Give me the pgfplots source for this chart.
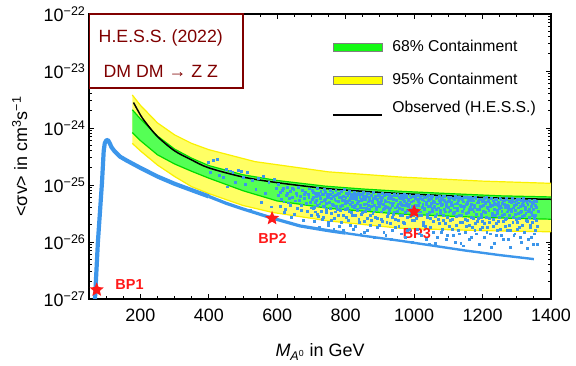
\documentclass[border=0pt]{standalone}
\usepackage{pgfplots}
\pgfplotsset{compat=1.18}
\usepackage{pgfplotstable}
\usepgfplotslibrary{fillbetween}
\usepackage{fontspec}
\setmainfont{Liberation Sans}

\definecolor{dmblue}{RGB}{60,150,235}
\definecolor{bandgreen}{RGB}{85,255,85}
\definecolor{edgegreen}{RGB}{0,220,0}
\definecolor{bandyellow}{RGB}{255,255,100}
\definecolor{edgeyellow}{RGB}{250,240,0}
\definecolor{boxred}{RGB}{128,0,0}
\definecolor{starred}{RGB}{255,25,25}

% filled five-pointed star
\pgfdeclareplotmark{fstar}{%
  \pgfpathmoveto{\pgfpointpolar{90}{\pgfplotmarksize}}%
  \pgfpathlineto{\pgfpointpolar{126}{0.45\pgfplotmarksize}}%
  \pgfpathlineto{\pgfpointpolar{162}{\pgfplotmarksize}}%
  \pgfpathlineto{\pgfpointpolar{198}{0.45\pgfplotmarksize}}%
  \pgfpathlineto{\pgfpointpolar{234}{\pgfplotmarksize}}%
  \pgfpathlineto{\pgfpointpolar{270}{0.45\pgfplotmarksize}}%
  \pgfpathlineto{\pgfpointpolar{306}{\pgfplotmarksize}}%
  \pgfpathlineto{\pgfpointpolar{342}{0.45\pgfplotmarksize}}%
  \pgfpathlineto{\pgfpointpolar{18}{\pgfplotmarksize}}%
  \pgfpathlineto{\pgfpointpolar{54}{0.45\pgfplotmarksize}}%
  \pgfpathclose\pgfusepathqfill}

% H.E.S.S. bands
\pgfplotstableread{
x y
176.5 3.80e-24
200 2.51e-24
250 1.23e-24
300 7.59e-25
350 5.37e-25
400 4.17e-25
535 2.57e-25
750 1.70e-25
960 1.38e-25
1200 1.17e-25
1400 1.07e-25
}\yelup
\pgfplotstableread{
x y
176.5 5.37e-25
200 3.98e-25
250 2.24e-25
300 1.41e-25
350 9.33e-26
400 7.08e-26
500 4.37e-26
585 3.31e-26
750 2.34e-26
960 1.74e-26
1200 1.58e-26
1400 1.51e-26
}\yellow
\pgfplotstableread{
x y
176.5 2.09e-24
200 1.45e-24
250 7.24e-25
300 4.27e-25
350 2.95e-25
400 2.19e-25
500 1.51e-25
600 1.20e-25
740 9.55e-26
850 8.51e-26
960 7.76e-26
1100 7.08e-26
1250 6.46e-26
1400 6.17e-26
}\grnup
\pgfplotstableread{
x y
176.5 8.32e-25
200 6.03e-25
250 3.39e-25
300 2.34e-25
350 1.74e-25
400 1.32e-25
500 7.94e-26
600 5.25e-26
750 3.89e-26
960 3.09e-26
1200 2.69e-26
1400 2.51e-26
}\grnlo
\pgfplotstableread{
x y
180 2.80e-24
200 1.70e-24
215 1.26e-24
250 7.08e-25
300 3.98e-25
350 2.75e-25
400 2.00e-25
500 1.38e-25
600 1.10e-25
740 8.71e-26
850 7.76e-26
960 7.08e-26
1100 6.46e-26
1250 5.89e-26
1400 5.62e-26
}\observed

% model scan points
\pgfplotstableread{
x y
398 2.51e-25
405 1.66e-25
412 2.69e-25
424 2.82e-25
430 1.48e-25
441 1.38e-25
452 1.91e-25
455 9.33e-26
463 1.78e-25
470 1.70e-25
478 1.12e-25
486 1.82e-25
494 1.74e-25
500 1.35e-25
506 1.05e-25
512 1.66e-25
520 3.55e-26
528 1.20e-25
537 8.32e-26
545 1.32e-25
552 5.01e-26
560 1.45e-25
566 7.08e-26
575 1.12e-25
583 4.17e-26
590 1.26e-25
596 8.91e-26
603 1.02e-25
608 7.4e-26
612 5.6e-26
617 8.9e-26
621 3.3e-26
626 6.6e-26
630 9.3e-26
633 4.9e-26
637 7.8e-26
641 2.7e-26
645 6.1e-26
648 8.5e-26
652 5.3e-26
655 7.1e-26
659 3.9e-26
662 9.0e-26
666 6.3e-26
669 4.4e-26
673 8.0e-26
676 2.4e-26
680 5.8e-26
683 7.5e-26
687 3.5e-26
690 6.8e-26
694 8.6e-26
697 5.0e-26
700 3.0e-26
703 8.2e-26
705 6.0e-26
708 4.1e-26
710 3.4e-26
712 7.3e-26
715 5.4e-26
717 8.7e-26
720 2.8e-26
722 6.5e-26
724 4.7e-26
727 7.9e-26
729 5.1e-26
731 2.5e-26
734 6.9e-26
736 4.3e-26
738 8.4e-26
741 5.7e-26
743 3.8e-26
745 7.0e-26
748 2.2e-26
750 6.2e-26
752 4.9e-26
755 8.1e-26
757 3.2e-26
759 5.9e-26
762 7.6e-26
764 4.5e-26
766 2.6e-26
769 6.7e-26
771 8.0e-26
773 5.3e-26
776 3.7e-26
778 7.2e-26
780 1.9e-26
782 6.0e-26
785 4.2e-26
787 7.7e-26
789 5.5e-26
792 3.0e-26
794 6.4e-26
796 8.3e-26
799 4.8e-26
801 7.1e-26
803 5.2e-26
805 3.9e-26
806 6.6e-26
808 2.4e-26
810 7.8e-26
812 4.6e-26
814 5.9e-26
815 3.3e-26
817 7.0e-26
819 5.0e-26
821 1.7e-26
823 6.3e-26
825 4.1e-26
826 7.5e-26
828 2.9e-26
830 5.6e-26
832 6.8e-26
834 3.6e-26
835 4.8e-26
837 7.3e-26
839 2.2e-26
841 6.0e-26
843 4.4e-26
845 5.4e-26
846 3.1e-26
848 6.9e-26
850 4.0e-26
852 7.6e-26
854 1.5e-26
856 5.7e-26
857 3.5e-26
859 6.4e-26
861 4.7e-26
863 2.6e-26
865 7.2e-26
867 5.1e-26
868 3.8e-26
870 6.1e-26
872 2.0e-26
874 4.3e-26
876 6.7e-26
878 5.3e-26
879 3.2e-26
881 7.4e-26
883 4.5e-26
885 2.7e-26
887 5.8e-26
889 6.5e-26
890 3.7e-26
892 1.8e-26
894 5.0e-26
896 7.0e-26
898 4.2e-26
901 6.2e-26
903 3.4e-26
905 5.5e-26
906 7.1e-26
908 2.3e-26
910 4.6e-26
912 6.6e-26
913 3.9e-26
915 5.2e-26
917 1.3e-26
919 6.9e-26
921 4.1e-26
922 2.8e-26
924 5.9e-26
926 3.6e-26
928 7.0e-26
930 4.9e-26
931 2.1e-26
933 6.3e-26
935 1.6e-26
937 4.4e-26
939 5.6e-26
940 3.1e-26
942 6.8e-26
944 4.0e-26
946 2.5e-26
948 5.3e-26
949 6.5e-26
951 3.5e-26
953 4.7e-26
955 1.9e-26
957 6.0e-26
958 2.9e-26
960 5.0e-26
962 6.7e-26
964 3.8e-26
966 4.5e-26
967 2.2e-26
969 5.7e-26
971 6.9e-26
973 3.3e-26
975 1.2e-26
976 4.8e-26
978 6.1e-26
980 2.7e-26
982 5.4e-26
984 4.2e-26
985 1.7e-26
987 6.6e-26
989 3.7e-26
991 5.1e-26
993 2.4e-26
994 4.3e-26
996 6.4e-26
998 3.0e-26
1002 6.3e-26
1004 4.4e-26
1006 2.6e-26
1008 5.6e-26
1010 3.5e-26
1012 6.7e-26
1014 1.4e-26
1016 4.9e-26
1018 5.9e-26
1020 3.0e-26
1022 6.5e-26
1024 4.1e-26
1026 2.0e-26
1028 5.3e-26
1030 3.7e-26
1032 6.1e-26
1034 1.1e-26
1036 4.6e-26
1038 2.7e-26
1040 5.5e-26
1042 6.6e-26
1044 3.3e-26
1046 4.3e-26
1048 1.8e-26
1050 5.8e-26
1052 3.9e-26
1054 6.4e-26
1056 2.3e-26
1058 5.0e-26
1060 4.0e-26
1062 9.5e-27
1064 6.0e-26
1066 3.1e-26
1068 4.7e-26
1070 2.5e-26
1072 5.4e-26
1074 6.3e-26
1076 3.6e-26
1078 1.5e-26
1080 4.4e-26
1082 5.7e-26
1084 2.9e-26
1086 6.5e-26
1088 3.8e-26
1090 2.1e-26
1092 5.1e-26
1094 4.2e-26
1096 1.3e-26
1098 6.0e-26
1101 3.4e-26
1103 5.5e-26
1105 2.4e-26
1107 6.2e-26
1109 4.5e-26
1111 1.7e-26
1113 3.2e-26
1115 5.9e-26
1117 4.0e-26
1119 1.0e-26
1121 6.3e-26
1123 2.8e-26
1125 4.8e-26
1127 3.6e-26
1129 5.3e-26
1131 1.4e-26
1133 6.0e-26
1135 2.2e-26
1137 4.3e-26
1139 3.0e-26
1141 5.6e-26
1143 8.6e-27
1145 3.9e-26
1147 6.1e-26
1149 2.5e-26
1151 4.6e-26
1153 1.9e-26
1155 5.0e-26
1157 3.3e-26
1159 6.2e-26
1161 2.0e-26
1163 4.1e-26
1165 5.4e-26
1167 1.2e-26
1169 3.7e-26
1171 5.8e-26
1173 2.6e-26
1175 4.4e-26
1177 1.6e-26
1179 6.0e-26
1181 3.1e-26
1183 4.9e-26
1185 2.3e-26
1187 5.2e-26
1189 9.0e-27
1191 3.8e-26
1193 5.7e-26
1195 2.7e-26
1197 4.2e-26
1199 1.8e-26
1201 5.5e-26
1203 3.5e-26
1205 2.1e-26
1208 4.7e-26
1210 6.0e-26
1212 1.5e-26
1215 3.9e-26
1217 5.2e-26
1219 2.6e-26
1222 4.3e-26
1224 8.2e-27
1226 5.8e-26
1229 3.2e-26
1231 1.9e-26
1233 4.9e-26
1236 2.9e-26
1238 5.6e-26
1240 1.3e-26
1243 3.6e-26
1245 4.5e-26
1247 2.3e-26
1250 5.9e-26
1252 1.7e-26
1254 4.0e-26
1257 3.0e-26
1259 5.3e-26
1261 1.1e-26
1264 4.6e-26
1266 2.5e-26
1268 5.7e-26
1271 3.4e-26
1273 1.6e-26
1275 4.2e-26
1278 2.0e-26
1280 5.1e-26
1282 8.0e-27
1285 3.7e-26
1287 5.8e-26
1289 2.7e-26
1292 4.4e-26
1294 1.4e-26
1296 3.1e-26
1299 5.4e-26
1301 2.2e-26
1303 4.0e-26
1306 1.8e-26
1308 5.6e-26
1310 3.3e-26
1313 1.0e-26
1315 4.7e-26
1317 2.8e-26
1320 5.2e-26
1322 1.5e-26
1324 3.8e-26
1327 2.4e-26
1329 4.9e-26
1331 7.8e-27
1334 3.5e-26
1336 5.5e-26
1338 2.0e-26
1341 4.3e-26
1343 1.2e-26
1345 3.0e-26
1348 5.0e-26
1350 2.6e-26
1353 1.6e-26
1356 4.1e-26
1359 9.0e-27
}\scan

\pgfplotstableread{
x y
604 6.7e-26
609 4.3e-26
614 8.1e-26
619 5.1e-26
624 3.8e-26
628 7.2e-26
635 5.8e-26
639 4.5e-26
643 8.8e-26
650 3.1e-26
657 6.5e-26
664 5.5e-26
671 3.6e-26
678 7.0e-26
685 4.8e-26
692 6.2e-26
698 4.0e-26
701 5.7e-26
704 3.9e-26
706 7.6e-26
709 2.3e-26
711 5.0e-26
713 6.4e-26
716 3.1e-26
718 4.4e-26
721 7.1e-26
723 1.8e-26
726 5.8e-26
728 3.5e-26
730 6.8e-26
733 4.2e-26
735 2.7e-26
737 5.5e-26
740 7.4e-26
742 3.3e-26
744 4.8e-26
747 6.1e-26
749 2.0e-26
751 5.1e-26
754 3.9e-26
756 7.0e-26
758 2.4e-26
761 4.6e-26
763 6.3e-26
765 1.7e-26
768 5.6e-26
770 3.4e-26
772 4.3e-26
775 6.9e-26
777 2.9e-26
779 5.2e-26
781 7.3e-26
784 3.6e-26
786 2.2e-26
788 6.0e-26
791 4.5e-26
793 1.6e-26
795 5.4e-26
798 3.8e-26
800 6.2e-26
802 2.7e-26
804 4.9e-26
807 7.2e-26
809 3.5e-26
811 5.5e-26
813 2.0e-26
816 6.5e-26
818 4.2e-26
820 3.0e-26
822 5.8e-26
824 7.0e-26
827 1.9e-26
829 4.5e-26
831 6.2e-26
833 3.8e-26
836 5.2e-26
838 2.5e-26
840 6.9e-26
842 4.1e-26
844 1.4e-26
847 5.6e-26
849 3.3e-26
851 6.4e-26
853 4.6e-26
855 2.3e-26
858 5.9e-26
860 3.9e-26
862 7.1e-26
864 1.6e-26
866 4.4e-26
869 5.5e-26
871 3.0e-26
873 6.6e-26
875 2.4e-26
877 4.9e-26
880 5.9e-26
882 3.4e-26
884 1.2e-26
886 6.3e-26
888 4.1e-26
891 2.6e-26
893 5.7e-26
895 4.7e-26
897 2.0e-26
899 6.7e-26
902 4.8e-26
904 2.5e-26
907 6.0e-26
909 3.7e-26
911 1.5e-26
914 5.4e-26
916 4.3e-26
918 6.8e-26
920 2.2e-26
923 5.1e-26
925 3.2e-26
927 6.2e-26
929 4.0e-26
932 1.1e-26
934 5.8e-26
936 2.7e-26
938 4.9e-26
941 6.5e-26
943 3.4e-26
945 1.8e-26
947 5.5e-26
950 4.2e-26
952 6.9e-26
954 2.4e-26
956 3.9e-26
959 5.9e-26
961 1.4e-26
963 4.6e-26
965 3.0e-26
968 6.3e-26
970 5.2e-26
972 2.1e-26
974 4.4e-26
977 6.6e-26
979 3.6e-26
981 1.6e-26
983 5.7e-26
986 4.7e-26
988 2.8e-26
990 6.1e-26
992 3.3e-26
995 1.0e-26
997 5.3e-26
999 4.1e-26
1001 2.4e-26
1003 5.9e-26
1005 3.8e-26
1007 6.6e-26
1009 1.7e-26
1011 4.5e-26
1013 5.2e-26
1015 2.9e-26
1017 6.2e-26
1019 3.4e-26
1021 1.3e-26
1023 5.6e-26
1025 4.6e-26
1027 2.2e-26
1029 6.0e-26
1031 3.9e-26
1033 1.9e-26
1035 5.0e-26
1037 6.4e-26
1039 3.1e-26
1041 4.2e-26
1043 9.2e-27
1045 5.7e-26
1047 2.6e-26
1049 4.8e-26
1051 6.3e-26
1053 3.5e-26
1055 1.5e-26
1057 5.3e-26
1059 4.3e-26
1061 2.8e-26
1063 5.9e-26
1065 3.7e-26
1067 1.2e-26
1069 6.2e-26
1071 4.0e-26
1073 2.1e-26
1075 5.0e-26
1077 3.2e-26
1079 5.8e-26
1081 1.7e-26
1083 4.6e-26
1085 2.4e-26
1087 5.5e-26
1089 6.4e-26
1091 3.4e-26
1093 1.1e-26
1095 4.8e-26
1097 2.7e-26
1099 5.2e-26
1100 4.1e-26
1102 1.9e-26
1104 6.1e-26
1106 3.6e-26
1108 5.0e-26
1110 2.5e-26
1112 4.4e-26
1114 1.3e-26
1116 5.7e-26
1118 3.3e-26
1120 4.7e-26
1122 2.0e-26
1124 6.2e-26
1126 3.9e-26
1128 1.6e-26
1130 5.4e-26
1132 2.9e-26
1134 4.5e-26
1136 9.6e-27
1138 5.8e-26
1140 3.5e-26
1142 2.2e-26
1144 5.1e-26
1146 4.2e-26
1148 1.5e-26
1150 6.0e-26
1152 3.2e-26
1154 4.8e-26
1156 2.4e-26
1158 5.5e-26
1160 1.1e-26
1162 3.8e-26
1164 6.1e-26
1166 2.7e-26
1168 4.6e-26
1170 1.8e-26
1172 5.3e-26
1174 3.4e-26
1176 4.0e-26
1178 2.1e-26
1180 5.9e-26
1182 1.4e-26
1184 3.7e-26
1186 4.9e-26
1188 2.6e-26
1190 5.6e-26
1192 1.7e-26
1194 4.3e-26
1196 3.1e-26
1198 5.1e-26
1200 2.3e-26
1202 4.5e-26
1204 5.8e-26
1206 1.2e-26
1207 3.3e-26
1209 5.0e-26
1211 2.7e-26
1213 4.1e-26
1214 1.8e-26
1216 5.5e-26
1218 3.6e-26
1220 2.2e-26
1221 4.8e-26
1223 1.4e-26
1225 5.9e-26
1227 3.0e-26
1228 4.4e-26
1230 2.5e-26
1232 5.3e-26
1234 9.5e-27
1235 3.8e-26
1237 4.6e-26
1239 2.1e-26
1241 5.7e-26
1242 3.2e-26
1244 1.6e-26
1246 5.0e-26
1248 3.9e-26
1249 2.7e-26
1251 4.3e-26
1253 5.6e-26
1255 1.3e-26
1256 3.5e-26
1258 4.8e-26
1260 2.3e-26
1262 5.4e-26
1263 3.1e-26
1265 1.9e-26
1267 4.1e-26
1269 5.8e-26
1270 2.6e-26
1272 4.5e-26
1274 1.1e-26
1276 3.7e-26
1277 5.2e-26
1279 2.9e-26
1281 1.6e-26
1283 4.9e-26
1284 3.4e-26
1286 5.5e-26
1288 2.2e-26
1290 4.0e-26
1291 1.3e-26
1293 5.1e-26
1295 3.6e-26
1297 2.5e-26
1298 4.6e-26
1300 5.7e-26
1302 1.7e-26
1304 3.2e-26
1305 4.9e-26
1307 2.6e-26
1309 4.2e-26
1311 1.2e-26
1312 5.4e-26
1314 3.5e-26
1316 2.0e-26
1318 4.5e-26
1319 5.8e-26
1321 2.9e-26
1323 1.5e-26
1325 4.1e-26
1326 3.2e-26
1328 5.3e-26
1330 2.3e-26
1332 4.6e-26
1333 1.1e-26
1335 3.8e-26
1337 2.7e-26
1339 5.1e-26
1340 1.8e-26
1342 3.3e-26
1344 4.8e-26
1346 2.2e-26
1347 9.0e-27
1349 3.7e-26
1351 5.4e-26
1352 1.4e-26
1354 3.0e-26
1355 4.4e-26
1357 2.4e-26
1358 5.2e-26
1360 1.9e-26
1362 3.5e-26
}\scanb

\begin{document}
\begin{tikzpicture}
\begin{axis}[
  scale only axis,
  width=462bp, height=285bp,
  xmin=50, xmax=1400,
  ymode=log, ymin=1e-27, ymax=1e-22,
  xtick={200,400,...,1400},
  minor xtick={100,150,...,1350},
  ytick={1e-27,1e-26,1e-25,1e-24,1e-23,1e-22},
  yticklabels={10\textsuperscript{−27},10\textsuperscript{−26},10\textsuperscript{−25},10\textsuperscript{−24},10\textsuperscript{−23},10\textsuperscript{−22}},
  tick align=inside,
  major tick length=5bp, minor tick length=3bp,
  every tick/.style={black, line width=0.8bp},
  axis line style={line width=1.5bp},
  ticklabel style={font=\fontsize{18}{20}\selectfont},
  /pgf/number format/assume math mode=true,
  /pgf/number format/set thousands separator={},
  xticklabel style={yshift=-6bp},
  xlabel={\textit{M}\textsubscript{\textit{A}\textsuperscript{0}} in GeV},
  xlabel style={at={(axis description cs:0.5,-0.2)}, anchor=base, font=\fontsize{18}{20}\selectfont},
  ylabel={<σv> in cm\textsuperscript{3}s\textsuperscript{−1}},
  ylabel style={at={(axis description cs:-0.134,0.5)}, anchor=base, font=\fontsize{18}{20}\selectfont},
]
% 95% band
\addplot[draw=none, name path=yu, forget plot] table {\yelup};
\addplot[draw=none, name path=yl, forget plot] table {\yellow};
\addplot[bandyellow] fill between[of=yu and yl];
\addplot[edgeyellow, line width=1.2bp] table {\yelup};
\addplot[edgeyellow, line width=1.2bp] table {\yellow};
% 68% band
\addplot[draw=none, name path=gu, forget plot] table {\grnup};
\addplot[draw=none, name path=gl, forget plot] table {\grnlo};
\addplot[bandgreen] fill between[of=gu and gl];
\addplot[edgegreen, line width=1.2bp] table {\grnup};
\addplot[edgegreen, line width=1.2bp] table {\grnlo};
% scan points
\addplot[only marks, color=dmblue, mark=square*, mark size=0.95bp, mark options={draw=none, fill=dmblue}] table {\scan};
\addplot[only marks, color=dmblue, mark=square*, mark size=0.95bp, mark options={draw=none, fill=dmblue}] table {\scanb};
% observed limit
\addplot[black, line width=1.5bp, smooth] table {\observed};
% relic curve
\addplot[dmblue, line width=4.2bp, line join=round] coordinates {
(64,3.98e-28) (67.5,1.00e-27) (76,1.00e-26) (88,1.12e-25) (93,3.98e-25)
(96,5.37e-25) (100,6.03e-25) (105,6.17e-25) (110,5.50e-25) (116,4.57e-25)
(125,3.89e-25) (140,3.16e-25) (160,2.69e-25) (200,2.00e-25) (250,1.41e-25)
(300,1.05e-25) (350,8.13e-26) (400,6.31e-26)};
\addplot[dmblue, line width=3.2bp, line join=round] coordinates {
(400,6.31e-26) (450,4.79e-26) (500,3.80e-26) (585,2.63e-26) (667,1.91e-26)
(750,1.58e-26) (800,1.43e-26)};
\addplot[dmblue, line width=2.4bp, line join=round] coordinates {
(800,1.43e-26) (850,1.29e-26) (960,1.05e-26) (1050,8.71e-27) (1150,7.08e-27)
(1250,5.89e-27) (1350,5.01e-27)};
% benchmark points
\addplot[only marks, mark=fstar, mark size=7.4bp, color=starred] coordinates {
(72.5,1.45e-27) (585,2.6e-26) (1000,3.4e-26)};
\node[starred, anchor=base west, font=\bfseries\fontsize{14.5}{16}\selectfont] at (axis cs:117,1.48e-27) {BP1};
\node[starred, anchor=base west, font=\bfseries\fontsize{14.5}{16}\selectfont] at (axis cs:535,9.5e-27) {BP2};
\node[starred, anchor=base west, font=\bfseries\fontsize{14.5}{16}\selectfont] at (axis cs:956.7,1.16e-26) {BP3};
% H.E.S.S. box
\draw[boxred, line width=1.5bp, fill=white] (axis description cs:0,0.74) rectangle (axis description cs:0.333,1);
\node[boxred, anchor=base, font=\fontsize{17.8}{20}\selectfont] at (axis description cs:0.1554,0.899) {H.E.S.S. (2022)};
\node[boxred, anchor=base, font=\fontsize{17.8}{20}\selectfont] at (axis description cs:0.1554,0.778) {DM DM → Z Z};
% legend
\draw[fill={rgb,255:red,20;green,250;blue,20}, draw=gray, line width=0.6bp] (axis description cs:0.528,0.870) rectangle (axis description cs:0.634,0.898);
\draw[fill={rgb,255:red,255;green,255;blue,0}, draw=gray, line width=0.6bp] (axis description cs:0.528,0.754) rectangle (axis description cs:0.634,0.782);
\draw[black, line width=1.5bp] (axis description cs:0.528,0.646) -- (axis description cs:0.634,0.646);
\node[anchor=base west, font=\fontsize{15.8}{18}\selectfont] at (axis description cs:0.649,0.868) {68\% Containment};
\node[anchor=base west, font=\fontsize{15.8}{18}\selectfont] at (axis description cs:0.649,0.751) {95\% Containment};
\node[anchor=base west, font=\fontsize{15.8}{18}\selectfont] at (axis description cs:0.649,0.653) {Observed (H.E.S.S.)};
\end{axis}
\pgfresetboundingbox
\path[use as bounding box] (-89bp,-67bp) rectangle (487bp,299bp);
\end{tikzpicture}
\end{document}
